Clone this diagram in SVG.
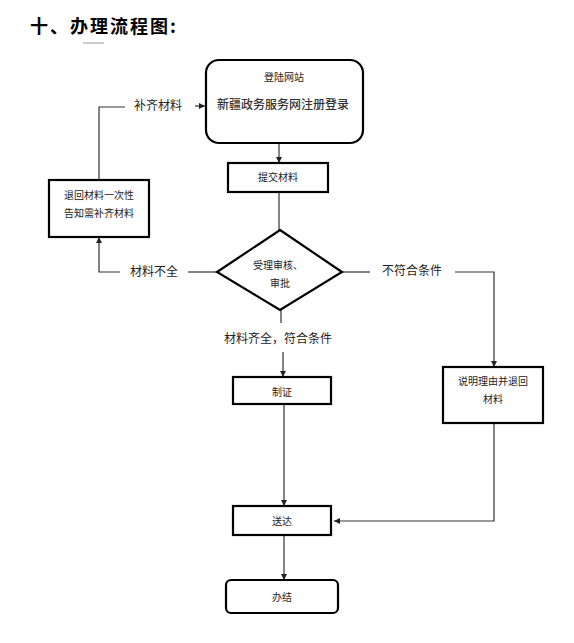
<svg xmlns="http://www.w3.org/2000/svg" width="574" height="643" viewBox="0 0 574 643">
<defs>
<style>
.box{fill:#fff;stroke:#000;stroke-width:2.2}
.ln{fill:none;stroke:#333;stroke-width:1.2}
.t{font-family:"Liberation Sans","Noto Sans CJK SC",sans-serif;font-size:10px;fill:#222;text-anchor:middle;dominant-baseline:central}
.lb{font-family:"Liberation Sans","Noto Sans CJK SC",sans-serif;font-size:12px;fill:#222;text-anchor:middle;dominant-baseline:central}
</style>
<marker id="ah" viewBox="0 0 6 6" refX="6" refY="3" markerWidth="6" markerHeight="6" markerUnits="userSpaceOnUse" orient="auto">
<path d="M0,0 L6,3 L0,6 z" fill="#222"/>
</marker>
</defs>
<rect width="574" height="643" fill="#fff"/>
<text x="30" y="25" font-family="'Noto Sans CJK SC',sans-serif" font-size="18" font-weight="bold" letter-spacing="2" fill="#000" dominant-baseline="central">十、办理流程图:</text>
<line x1="83" y1="43" x2="104" y2="43" stroke="#999" stroke-width="1"/>

<g id="connectors">
<line class="ln" x1="279" y1="143" x2="279" y2="163" marker-end="url(#ah)"/>
<line class="ln" x1="279" y1="192" x2="279" y2="230"/>
<polyline class="ln" points="217,272 188,272"/>
<polyline class="ln" points="120,272 99,272 99,237" marker-end="url(#ah)"/>
<polyline class="ln" points="99,180 99,107 125,107"/>
<line class="ln" x1="195" y1="106" x2="205" y2="106" marker-end="url(#ah)"/>
<line class="ln" x1="342" y1="272" x2="370" y2="272"/>
<polyline class="ln" points="455,272 494,272 494,367" marker-end="url(#ah)"/>
<line class="ln" x1="281" y1="310" x2="281" y2="323"/>
<line class="ln" x1="283" y1="352" x2="283" y2="377" marker-end="url(#ah)"/>
<line class="ln" x1="284" y1="404" x2="284" y2="506" marker-end="url(#ah)"/>
<polyline class="ln" points="494,423 494,521 334,521" marker-end="url(#ah)"/>
<line class="ln" x1="284" y1="535" x2="284" y2="580" marker-end="url(#ah)"/>
<text class="lb" x="158" y="106">补齐材料</text>
<text class="lb" x="154" y="272">材料不全</text>
<text class="lb" x="412" y="271">不符合条件</text>
<text class="lb" x="278" y="339">材料齐全，符合条件</text>
</g>

<g id="login">
<rect class="box" x="206" y="60" width="157" height="83" rx="13"/>
<text class="t" x="284" y="77">登陆网站</text>
<text x="283" y="103" font-family="'Noto Sans CJK SC',serif" font-size="12" font-weight="500" fill="#333" text-anchor="middle" dominant-baseline="central">新疆政务服务网注册登录</text>
</g>
<g id="submit">
<rect class="box" x="228" y="163" width="100" height="29"/>
<text class="t" x="278" y="177">提交材料</text>
</g>
<g id="return">
<rect class="box" x="49" y="180" width="100" height="57"/>
<text class="t" x="99" y="195">退回材料一次性</text>
<text class="t" x="99" y="213">告知需补齐材料</text>
</g>
<g id="review">
<polygon class="box" points="280,230 342,272 280,310 217,272"/>
<text class="t" x="278" y="265">受理审核、</text>
<text class="t" x="280" y="283">审批</text>
</g>
<g id="explain">
<rect class="box" x="443" y="367" width="100" height="56"/>
<text class="t" x="493" y="381">说明理由并退回</text>
<text class="t" x="493" y="399">材料</text>
</g>
<g id="cert">
<rect class="box" x="233" y="377" width="98" height="27"/>
<text class="t" x="282" y="392">制证</text>
</g>
<g id="deliver">
<rect class="box" x="233" y="506" width="98" height="29"/>
<text class="t" x="282" y="521">送达</text>
</g>
<g id="done">
<rect class="box" x="226" y="580" width="112" height="33" rx="5"/>
<text class="t" x="282" y="597">办结</text>
</g>
</svg>
